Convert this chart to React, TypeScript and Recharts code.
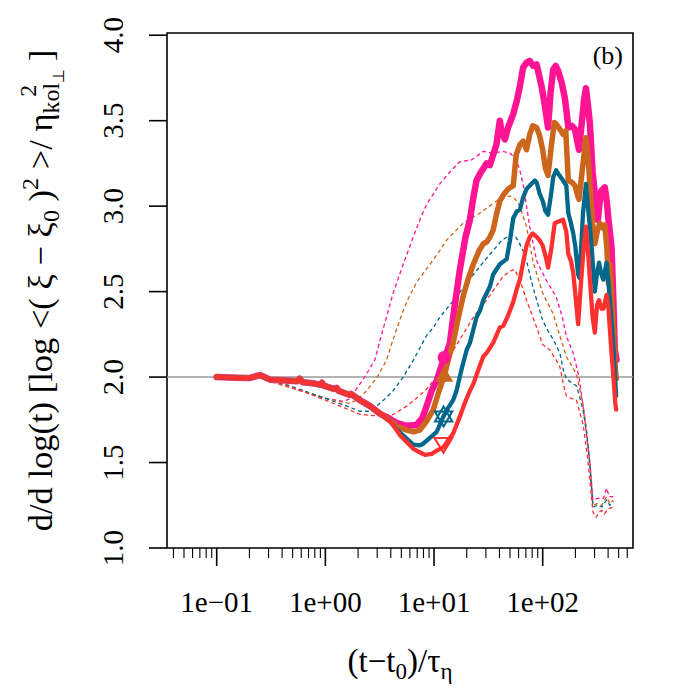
import React from 'react';
import { ComposedChart, Line, XAxis, YAxis, ReferenceArea, Scatter } from 'recharts';

const FONT = '"Liberation Serif", "Times New Roman", Times, serif';

// ---------- axis / ticks ----------
const X_MIN = 0.03489;
const X_MAX = 677.7;
const Y_MIN = 1.0;
const Y_MAX = 4.013;
const X_MAJOR = [0.1, 1, 10, 100];
const X_MAJOR_LABELS = ['1e\u221201', '1e+00', '1e+01', '1e+02'];
const X_MINOR = [0.04, 0.05, 0.06, 0.07, 0.08, 0.09, 0.2, 0.3, 0.4, 0.5, 0.6, 0.7, 0.8, 0.9,
  2, 3, 4, 5, 6, 7, 8, 9, 20, 30, 40, 50, 60, 70, 80, 90, 200, 300, 400, 500, 600];
const Y_TICKS = [1.0, 1.5, 2.0, 2.5, 3.0, 3.5, 4.0];
const REF_LEVEL = 2.0;

// ---------- series values [x, y] ----------
const sharedEarly: [number, number][] = [
  [0.1, 2.0], [0.15, 1.996], [0.2, 1.994], [0.25, 2.012], [0.31, 1.985], [0.4, 1.982], [0.55, 1.975],
  [0.58, 1.99], [0.62, 1.97], [0.8, 1.962], [0.9, 1.955], [0.93, 1.967], [0.97, 1.95], [1.2, 1.93],
  [1.27, 1.937], [1.32, 1.92], [1.68, 1.895], [1.72, 1.902], [2.08, 1.865], [2.58, 1.83], [3.2, 1.785],
];

const pinkThickTail: [number, number][] = [
  [3.94, 1.755], [4.6, 1.73], [5.6, 1.715], [6.9, 1.72], [7.8, 1.76], [8.55, 1.83], [9.5, 1.92], [10.6, 1.98],
  [12.4, 2.115], [13.2, 2.15], [14, 2.2], [15, 2.35], [17.3, 2.63], [19.5, 2.82], [21.4, 2.92], [23, 3.05],
  [24.6, 3.15], [26.5, 3.19], [28.5, 3.22], [30.4, 3.25], [32.7, 3.24], [35, 3.3], [37.5, 3.36], [40.3, 3.5],
  [42, 3.43], [44.9, 3.39], [48, 3.46], [53.6, 3.54], [58, 3.62], [62, 3.71], [66, 3.81], [71, 3.84],
  [76, 3.85], [82, 3.82], [87.8, 3.83], [93, 3.76], [97.7, 3.7], [104, 3.6], [112, 3.46], [118, 3.66],
  [125, 3.8], [132, 3.82], [139, 3.79], [150, 3.72], [160, 3.63], [166, 3.55], [172, 3.46], [185, 3.47],
  [198, 3.45], [208, 3.38], [216, 3.33], [230, 3.5], [240, 3.62], [250, 3.69], [260, 3.6], [272, 3.48],
  [288, 3.2], [302, 3.07], [322, 2.92], [336, 3.04], [347, 3.09], [373, 3.11], [390, 3.02], [403, 2.92],
  [430, 2.76], [447, 2.45], [461, 2.16], [478, 2.1],
];

const brownThickTail: [number, number][] = [
  [3.94, 1.745], [4.6, 1.71], [5.6, 1.69], [6.5, 1.68], [7.4, 1.69], [8.5, 1.74], [9.85, 1.81], [11, 1.91],
  [12.4, 2.005], [13.5, 2.1], [15, 2.2], [16.5, 2.33], [18.5, 2.47], [20.5, 2.57], [23, 2.66], [26, 2.74],
  [28.4, 2.78], [30.5, 2.79], [32.7, 2.82], [35, 2.86], [37.5, 2.95], [40.3, 3.03], [44, 3.07], [48, 3.1],
  [53.6, 3.12], [57, 3.3], [61.7, 3.36], [66, 3.38], [71, 3.33], [76, 3.42], [81, 3.47], [87.8, 3.46],
  [94, 3.41], [100, 3.33], [106, 3.22], [112, 3.18], [120, 3.35], [128, 3.49], [133, 3.48], [144, 3.45],
  [154, 3.42], [163, 3.44], [172, 3.15], [185, 3.14], [198, 3.12], [210, 3.06], [216, 3.04], [235, 3.25],
  [250, 3.4], [262, 3.28], [272, 3.12], [288, 2.9], [302, 2.78], [320, 2.86], [336, 2.9], [360, 2.87],
  [373, 2.89], [390, 2.75], [403, 2.55], [415, 2.66], [430, 2.5], [450, 2.25], [466, 2.05], [476, 1.99],
];

const tealThickTail: [number, number][] = [
  [3.94, 1.74], [4.6, 1.69], [5.6, 1.64], [6.45, 1.605], [7.4, 1.6], [7.95, 1.61], [9, 1.64], [10.6, 1.68],
  [12.2, 1.77], [13.5, 1.82], [15, 1.865], [16.1, 1.92], [18, 2.05], [20, 2.16], [21.4, 2.2], [24.6, 2.35],
  [26.5, 2.39], [28.4, 2.45], [32.7, 2.53], [35, 2.6], [40.3, 2.66], [46.6, 2.69], [50, 2.8], [53.6, 2.93],
  [58, 2.97], [61.7, 2.98], [66, 3.05], [71, 3.1], [76, 3.12], [84.7, 3.15], [88, 3.14], [94, 3.07],
  [100, 3.03], [106, 2.97], [112, 2.95], [120, 3.08], [125, 3.17], [133, 3.21], [139, 3.19], [154, 3.15],
  [165, 3.12], [172, 2.96], [182, 2.9], [191, 2.84], [200, 2.76], [212, 2.6], [218, 2.58], [235, 2.96],
  [250, 3.13], [262, 2.98], [272, 2.88], [285, 2.72], [302, 2.5], [315, 2.6], [330, 2.67], [347, 2.6],
  [362, 2.57], [387, 2.67], [403, 2.55], [430, 2.33], [450, 2.15], [465, 1.98], [475, 1.89],
];

const redThickTail: [number, number][] = [
  [3.94, 1.74], [4.2, 1.72], [4.87, 1.66], [5.6, 1.62], [6.45, 1.58], [7.4, 1.56], [8.26, 1.545], [9.5, 1.55],
  [10.6, 1.57], [12.2, 1.59], [13.5, 1.63], [15, 1.67], [17.3, 1.77], [19.5, 1.86], [21.4, 1.92], [23, 1.96],
  [25.5, 2.04], [28.4, 2.12], [30.4, 2.14], [35, 2.2], [40.3, 2.29], [43.4, 2.3], [48, 2.36], [53.6, 2.44],
  [58, 2.52], [61.7, 2.57], [66, 2.67], [71, 2.77], [76, 2.82], [81, 2.84], [88, 2.82], [94, 2.8],
  [100, 2.77], [107, 2.7], [112, 2.64], [120, 2.75], [129, 2.9], [140, 2.91], [154, 2.92], [165, 2.85],
  [172, 2.72], [182, 2.68], [191, 2.61], [200, 2.48], [212, 2.31], [225, 2.55], [240, 2.78], [250, 2.88],
  [262, 2.72], [272, 2.57], [288, 2.35], [302, 2.26], [316, 2.42], [330, 2.45], [347, 2.4], [362, 2.4],
  [387, 2.48], [403, 2.4], [430, 2.14], [450, 1.98], [465, 1.85], [475, 1.81],
];

const pinkDashed: [number, number][] = [
  [0.1, 2.0], [0.2, 1.995], [0.25, 2.0], [0.31, 1.975], [0.5, 1.935], [0.7, 1.905], [1.03, 1.875],
  [1.45, 1.858], [1.65, 1.87], [1.8, 1.905], [2.2, 1.98], [2.85, 2.1], [3.2, 2.22], [4.2, 2.49], [5.2, 2.66],
  [6.45, 2.82], [7.5, 2.93], [8.55, 3.01], [11.3, 3.13], [14, 3.2], [17.3, 3.26], [22, 3.27], [28.4, 3.32],
  [35, 3.31], [43, 3.32], [50, 3.31], [56, 3.28], [61, 3.22], [66, 3.13], [71, 3.0], [76, 2.88], [88, 2.68],
  [107, 2.57], [133, 2.47], [150, 2.36], [165, 2.24], [191, 2.14], [216, 2.0], [225, 1.92], [245, 1.74],
  [272, 1.5], [290, 1.28], [320, 1.29], [363, 1.29], [387, 1.35], [410, 1.3], [447, 1.3],
];

const brownDashed: [number, number][] = [
  [0.1, 2.0], [0.2, 1.995], [0.25, 2.0], [0.31, 1.975], [0.5, 1.935], [0.7, 1.905], [1.03, 1.875],
  [1.4, 1.855], [1.68, 1.846], [2.0, 1.87], [2.4, 1.92], [3.0, 2.0], [3.66, 2.1], [4.2, 2.22], [5.0, 2.36],
  [5.8, 2.46], [7.0, 2.56], [9.2, 2.66], [11.3, 2.74], [13, 2.8], [18.5, 2.9], [26.5, 2.96], [37.5, 3.03],
  [45, 3.05], [50, 3.06], [56, 3.04], [61.7, 3.0], [66, 2.94], [71, 2.88], [81, 2.68], [100, 2.49],
  [125, 2.37], [144, 2.24], [165, 2.12], [191, 2.05], [204, 2.02], [216, 1.95], [236, 1.84], [250, 1.72],
  [272, 1.5], [290, 1.25], [320, 1.26], [350, 1.25], [387, 1.3], [415, 1.26], [447, 1.28],
];

const tealDashed: [number, number][] = [
  [0.1, 2.0], [0.2, 1.995], [0.25, 2.0], [0.31, 1.985], [0.38, 1.97], [0.6, 1.925], [1.0, 1.875],
  [1.5, 1.835], [2.08, 1.8], [2.5, 1.8], [2.97, 1.83], [3.5, 1.87], [4.2, 1.92], [5.2, 2.0], [6.6, 2.11],
  [7.4, 2.17], [8.5, 2.24], [9.85, 2.29], [11.3, 2.35], [16.1, 2.47], [23, 2.6], [30, 2.69], [35, 2.74],
  [42, 2.8], [50, 2.83], [55, 2.83], [59, 2.8], [65, 2.75], [71, 2.68], [81, 2.53], [100, 2.33], [112, 2.27],
  [125, 2.22], [144, 2.14], [155, 2.04], [165, 1.99], [191, 1.96], [204, 1.95], [216, 1.9], [236, 1.8],
  [255, 1.66], [272, 1.48], [290, 1.24], [320, 1.25], [350, 1.24], [387, 1.28], [415, 1.25], [447, 1.27],
];

const redDashed: [number, number][] = [
  [0.1, 2.0], [0.2, 1.995], [0.25, 2.0], [0.31, 1.98], [0.38, 1.965], [0.6, 1.92], [1.0, 1.865], [1.5, 1.82],
  [2.08, 1.782], [2.75, 1.775], [3.5, 1.776], [4.2, 1.78], [5.6, 1.83], [7.0, 1.88], [8.55, 1.93], [10.5, 2.0],
  [13, 2.09], [17.3, 2.22], [23, 2.35], [30.4, 2.45], [43.4, 2.59], [50, 2.62], [55, 2.63], [61.7, 2.57],
  [71, 2.45], [88, 2.29], [100, 2.19], [116, 2.16], [130, 2.11], [144, 2.06], [155, 1.96], [165, 1.89],
  [184, 1.875], [204, 1.865], [212, 1.83], [236, 1.72], [260, 1.52], [275, 1.36], [290, 1.21], [310, 1.18],
  [330, 1.21], [350, 1.22], [370, 1.2], [400, 1.23], [447, 1.24],
];

// markers [x, y]
const markerCircle: [number, number] = [12.4, 2.115];
const markerTriangle: [number, number] = [12.4, 2.005];
const markerStar: [number, number] = [12.25, 1.77];
const markerDownTri: [number, number] = [12.2, 1.615];

// ---------- colors ----------
const PINK = '#FF1493';
const BROWN = '#CD661D';
const TEAL = '#00688B';
const RED = '#FF3030';

const toPts = (arr: [number, number][]) => arr.map(([x, y]) => ({ x, y }));
const pinkThick = toPts([...sharedEarly, ...pinkThickTail]);
const brownThick = toPts([...sharedEarly, ...brownThickTail]);
const tealThick = toPts([...sharedEarly, ...tealThickTail]);
const redThick = toPts([...sharedEarly, ...redThickTail]);
const refLine = toPts([[X_MIN, REF_LEVEL], [X_MAX, REF_LEVEL]]);

// ---------- layout ----------
const W = 684;
const H = 684;
const PLOT_LEFT = 159;
const PLOT_RIGHT = 625;
const PLOT_TOP = 25;
const PLOT_BOTTOM = 540;

const XTick = (props: any) => {
  const { x, payload } = props;
  const v = payload.value as number;
  const li = Math.log10(v);
  const isMajor = Math.abs(li - Math.round(li)) < 1e-6;
  const idx = X_MAJOR.findIndex((m) => Math.abs(m - v) < 1e-9);
  return (
    <g>
      <line x1={x} x2={x} y1={PLOT_BOTTOM} y2={PLOT_BOTTOM + (isMajor ? 18 : 10)} stroke="#000" strokeWidth={isMajor ? 1.6 : 1.1} />
      {isMajor && idx >= 0 && (
        <text x={x} y={604} textAnchor="middle" fontSize={29} fontFamily={FONT} fill="#000">
          {X_MAJOR_LABELS[idx]}
        </text>
      )}
    </g>
  );
};

const YTick = (props: any) => {
  const { y, payload } = props;
  const v = payload.value as number;
  const bx = 115;
  return (
    <g>
      <line x1={PLOT_LEFT - 18} x2={PLOT_LEFT} y1={y} y2={y} stroke="#000" strokeWidth={1.6} />
      <text x={bx} y={y} transform={`rotate(-90 ${bx} ${y})`} textAnchor="middle" fontSize={29} fontFamily={FONT} fill="#000">
        {v.toFixed(1)}
      </text>
    </g>
  );
};

const shapeCircle = (p: any) => <circle cx={p.cx} cy={p.cy} r={6.5} fill={PINK} />;
const shapeTriangle = (p: any) => (
  <polygon points={`${p.cx},${p.cy - 10} ${p.cx - 9},${p.cy + 5.5} ${p.cx + 9},${p.cy + 5.5}`} fill={BROWN} />
);
const shapeStar = (p: any) => {
  const r = 10;
  const a = r * 0.866;
  const { cx, cy } = p;
  return (
    <g fill="none" stroke={TEAL} strokeWidth={2}>
      <polygon points={`${cx},${cy - r} ${cx - a},${cy + r / 2} ${cx + a},${cy + r / 2}`} />
      <polygon points={`${cx},${cy + r} ${cx - a},${cy - r / 2} ${cx + a},${cy - r / 2}`} />
    </g>
  );
};
const shapeDownTri = (p: any) => (
  <polygon points={`${p.cx - 9},${p.cy - 5} ${p.cx + 9},${p.cy - 5} ${p.cx},${p.cy + 10}`} fill="none" stroke={RED} strokeWidth={2} />
);

const dashedProps = { strokeWidth: 1.3, strokeDasharray: '4 3', dot: false, isAnimationActive: false, type: 'linear' as const };
const thickProps = { dot: false, isAnimationActive: false, type: 'linear' as const, strokeLinejoin: 'round' as const, strokeLinecap: 'round' as const };

export default function App() {
  const yMid = (PLOT_TOP + PLOT_BOTTOM) / 2;
  return (
    <div style={{ position: 'relative', width: W, height: H, background: '#fff' }}>
      <ComposedChart width={W} height={H} margin={{ top: PLOT_TOP, right: W - PLOT_RIGHT, bottom: 44, left: PLOT_LEFT - 100 }}>
        <XAxis
          type="number"
          dataKey="x"
          scale="log"
          domain={[X_MIN, X_MAX]}
          allowDataOverflow
          ticks={[...X_MAJOR, ...X_MINOR].sort((a, b) => a - b)}
          interval={0}
          tick={(p: any) => <XTick {...p} />}
          tickLine={false}
          axisLine={false}
          height={100}
        />
        <YAxis
          type="number"
          dataKey="y"
          domain={[Y_MIN, Y_MAX]}
          allowDataOverflow
          ticks={Y_TICKS}
          interval={0}
          tick={(p: any) => <YTick {...p} />}
          tickLine={false}
          axisLine={false}
          width={100}
        />
        <Line data={refLine} dataKey="y" stroke="#9a9a9a" strokeWidth={1.6} dot={false} isAnimationActive={false} />
        <Line data={toPts(pinkDashed)} dataKey="y" stroke={PINK} {...dashedProps} />
        <Line data={toPts(brownDashed)} dataKey="y" stroke={BROWN} {...dashedProps} />
        <Line data={toPts(tealDashed)} dataKey="y" stroke={TEAL} {...dashedProps} />
        <Line data={toPts(redDashed)} dataKey="y" stroke={RED} {...dashedProps} />
        <Line data={pinkThick} dataKey="y" stroke={PINK} strokeWidth={6.5} {...thickProps} />
        <Line data={brownThick} dataKey="y" stroke={BROWN} strokeWidth={5.5} {...thickProps} />
        <Line data={tealThick} dataKey="y" stroke={TEAL} strokeWidth={4.3} {...thickProps} />
        <Line data={redThick} dataKey="y" stroke={RED} strokeWidth={4.3} {...thickProps} />
        <Scatter data={toPts([markerCircle])} dataKey="y" shape={shapeCircle} isAnimationActive={false} />
        <Scatter data={toPts([markerTriangle])} dataKey="y" shape={shapeTriangle} isAnimationActive={false} />
        <Scatter data={toPts([markerStar])} dataKey="y" shape={shapeStar} isAnimationActive={false} />
        <Scatter data={toPts([markerDownTri])} dataKey="y" shape={shapeDownTri} isAnimationActive={false} />
        <ReferenceArea x1={X_MIN} x2={X_MAX} y1={Y_MIN} y2={Y_MAX} fill="none" stroke="#000" strokeWidth={1.6} ifOverflow="visible" />
      </ComposedChart>
      <svg width={W} height={H} style={{ position: 'absolute', left: 0, top: 0, pointerEvents: 'none' }}>
        <text x={(PLOT_LEFT + PLOT_RIGHT) / 2} y={664} textAnchor="middle" fontSize={33} fontFamily={FONT} fill="#000">
          (t{'\u2212'}t<tspan fontSize={23} dy={7}>0</tspan>
          <tspan dy={-7}>)/τ</tspan>
          <tspan fontSize={23} dy={7}>η</tspan>
        </text>
        <text
          x={44}
          y={yMid}
          transform={`rotate(-90 44 ${yMid})`}
          textAnchor="middle"
          fontSize={34.5}
          fontFamily={FONT}
          fill="#000"
        >
          d/d log(t) [log {'<'}( ξ {'\u2212'} ξ<tspan fontSize={24} dy={7}>0</tspan>
          <tspan dy={-7}> )</tspan>
          <tspan fontSize={24} dy={-14}>2</tspan>
          <tspan dy={14}> {'>'}/ η</tspan>
          <tspan fontSize={24} dy={7}>kol</tspan>
          <tspan fontSize={16} dy={5}>⊥</tspan>
          <tspan fontSize={24} dx={-28} dy={-28}>2</tspan>
          <tspan dx={15} dy={16}> ]</tspan>
        </text>
        <text x={615} y={56} textAnchor="end" fontSize={26} fontFamily={FONT} fill="#000">
          (b)
        </text>
      </svg>
    </div>
  );
}
